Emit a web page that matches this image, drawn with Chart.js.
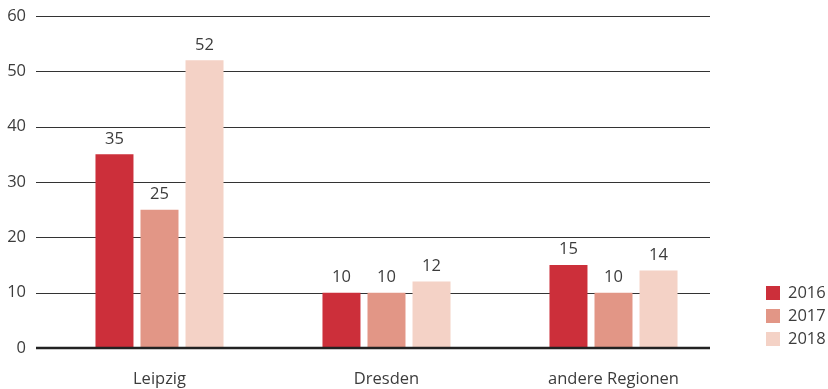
<!DOCTYPE html>
<html>
<head>
  <meta charset="UTF-8">
  <title>Regionen</title>
  <style>
    body { margin: 0; background: #fff; }
    #wrap { width: 828px; height: 389px; }
  </style>
  <script src="https://cdn.jsdelivr.net/npm/chart.js"></script>
</head>
<body>
  <div id="wrap"><canvas id="chart" width="828" height="389"></canvas></div>
  <script>
    const categories = ['Leipzig', 'Dresden', 'andere Regionen'];
    const years = ['2016', '2017', '2018'];
    const values2016 = [35, 10, 15];
    const values2017 = [25, 10, 10];
    const values2018 = [52, 12, 14];
    const yTicks = [0, 10, 20, 30, 40, 50, 60];

    const colors = ['#cc2f3a', '#e29686', '#f4d2c6'];
    const textColor = '#3c3c3c';
    const fontFamily = '"Open Sans", "Noto Sans", sans-serif';
    const fontSize = 16.5;

    // horizontal rules behind the bars; they stop short of the plot's right edge
    const gridLines = {
      id: 'gridLines',
      beforeDatasetsDraw(chart) {
        const { ctx } = chart;
        const y = chart.scales.y;
        const x0 = chart.chartArea.left - 10;
        const x1 = chart.chartArea.right - 17;
        ctx.save();
        ctx.strokeStyle = '#333';
        ctx.lineWidth = 1;
        yTicks.forEach(v => {
          if (v === 0) return;
          const py = Math.round(y.getPixelForValue(v)) + 0.5;
          ctx.beginPath();
          ctx.moveTo(x0, py);
          ctx.lineTo(x1, py);
          ctx.stroke();
        });
        ctx.restore();
      },
      afterDatasetsDraw(chart) {
        // heavier base line on top of the bars
        const { ctx } = chart;
        const py = Math.round(chart.scales.y.getPixelForValue(0));
        ctx.save();
        ctx.beginPath();
        ctx.strokeStyle = '#222';
        ctx.lineWidth = 2.5;
        ctx.moveTo(chart.chartArea.left - 10, py);
        ctx.lineTo(chart.chartArea.right - 17, py);
        ctx.stroke();
        ctx.restore();
      }
    };

    // value labels above each bar
    const barLabels = {
      id: 'barLabels',
      afterDatasetsDraw(chart) {
        const { ctx } = chart;
        ctx.save();
        ctx.font = fontSize + 'px ' + fontFamily;
        ctx.fillStyle = textColor;
        ctx.textAlign = 'center';
        ctx.textBaseline = 'bottom';
        chart.data.datasets.forEach((ds, i) => {
          chart.getDatasetMeta(i).data.forEach((bar, j) => {
            ctx.fillText(String(ds.data[j]), bar.x, bar.y - 7);
          });
        });
        ctx.restore();
      }
    };

    // stacked legend in the lower right corner
    const cornerLegend = {
      id: 'cornerLegend',
      afterDraw(chart) {
        const { ctx } = chart;
        const left = chart.chartArea.right + 39;
        const top = 286;
        const step = 23;
        ctx.save();
        ctx.font = fontSize + 'px ' + fontFamily;
        ctx.textAlign = 'left';
        ctx.textBaseline = 'middle';
        chart.data.datasets.forEach((ds, i) => {
          const y = top + i * step;
          ctx.fillStyle = ds.backgroundColor;
          ctx.fillRect(left, y, 14, 14);
          ctx.fillStyle = textColor;
          ctx.fillText(ds.label, left + 22, y + 7.5);
        });
        ctx.restore();
      }
    };

    new Chart(document.getElementById('chart'), {
      type: 'bar',
      data: {
        labels: categories,
        datasets: [
          { label: years[0], data: values2016, backgroundColor: colors[0] },
          { label: years[1], data: values2017, backgroundColor: colors[1] },
          { label: years[2], data: values2018, backgroundColor: colors[2] }
        ]
      },
      options: {
        responsive: false,
        animation: false,
        categoryPercentage: 0.595,
        barPercentage: 0.844,
        layout: { padding: { top: 16, left: 0, right: 101, bottom: 0 } },
        plugins: {
          legend: { display: false },
          tooltip: { enabled: false }
        },
        scales: {
          x: {
            afterFit(scale) { scale.height = 41; },
            grid: { display: false, drawTicks: false },
            border: { display: false },
            ticks: {
              color: textColor,
              padding: 21,
              font: { family: fontFamily, size: fontSize }
            }
          },
          y: {
            min: 0,
            max: 60,
            afterFit(scale) { scale.width = 46; },
            afterBuildTicks(scale) {
              scale.ticks = yTicks.map(v => ({ value: v }));
            },
            // the label gap comes from tickLength so it does not pad the top
            grid: { display: false, drawTicks: true, tickLength: 20 },
            border: { display: false },
            ticks: {
              color: textColor,
              padding: 0,
              font: { family: fontFamily, size: fontSize }
            }
          }
        }
      },
      plugins: [gridLines, barLabels, cornerLegend]
    });
  </script>
</body>
</html>
